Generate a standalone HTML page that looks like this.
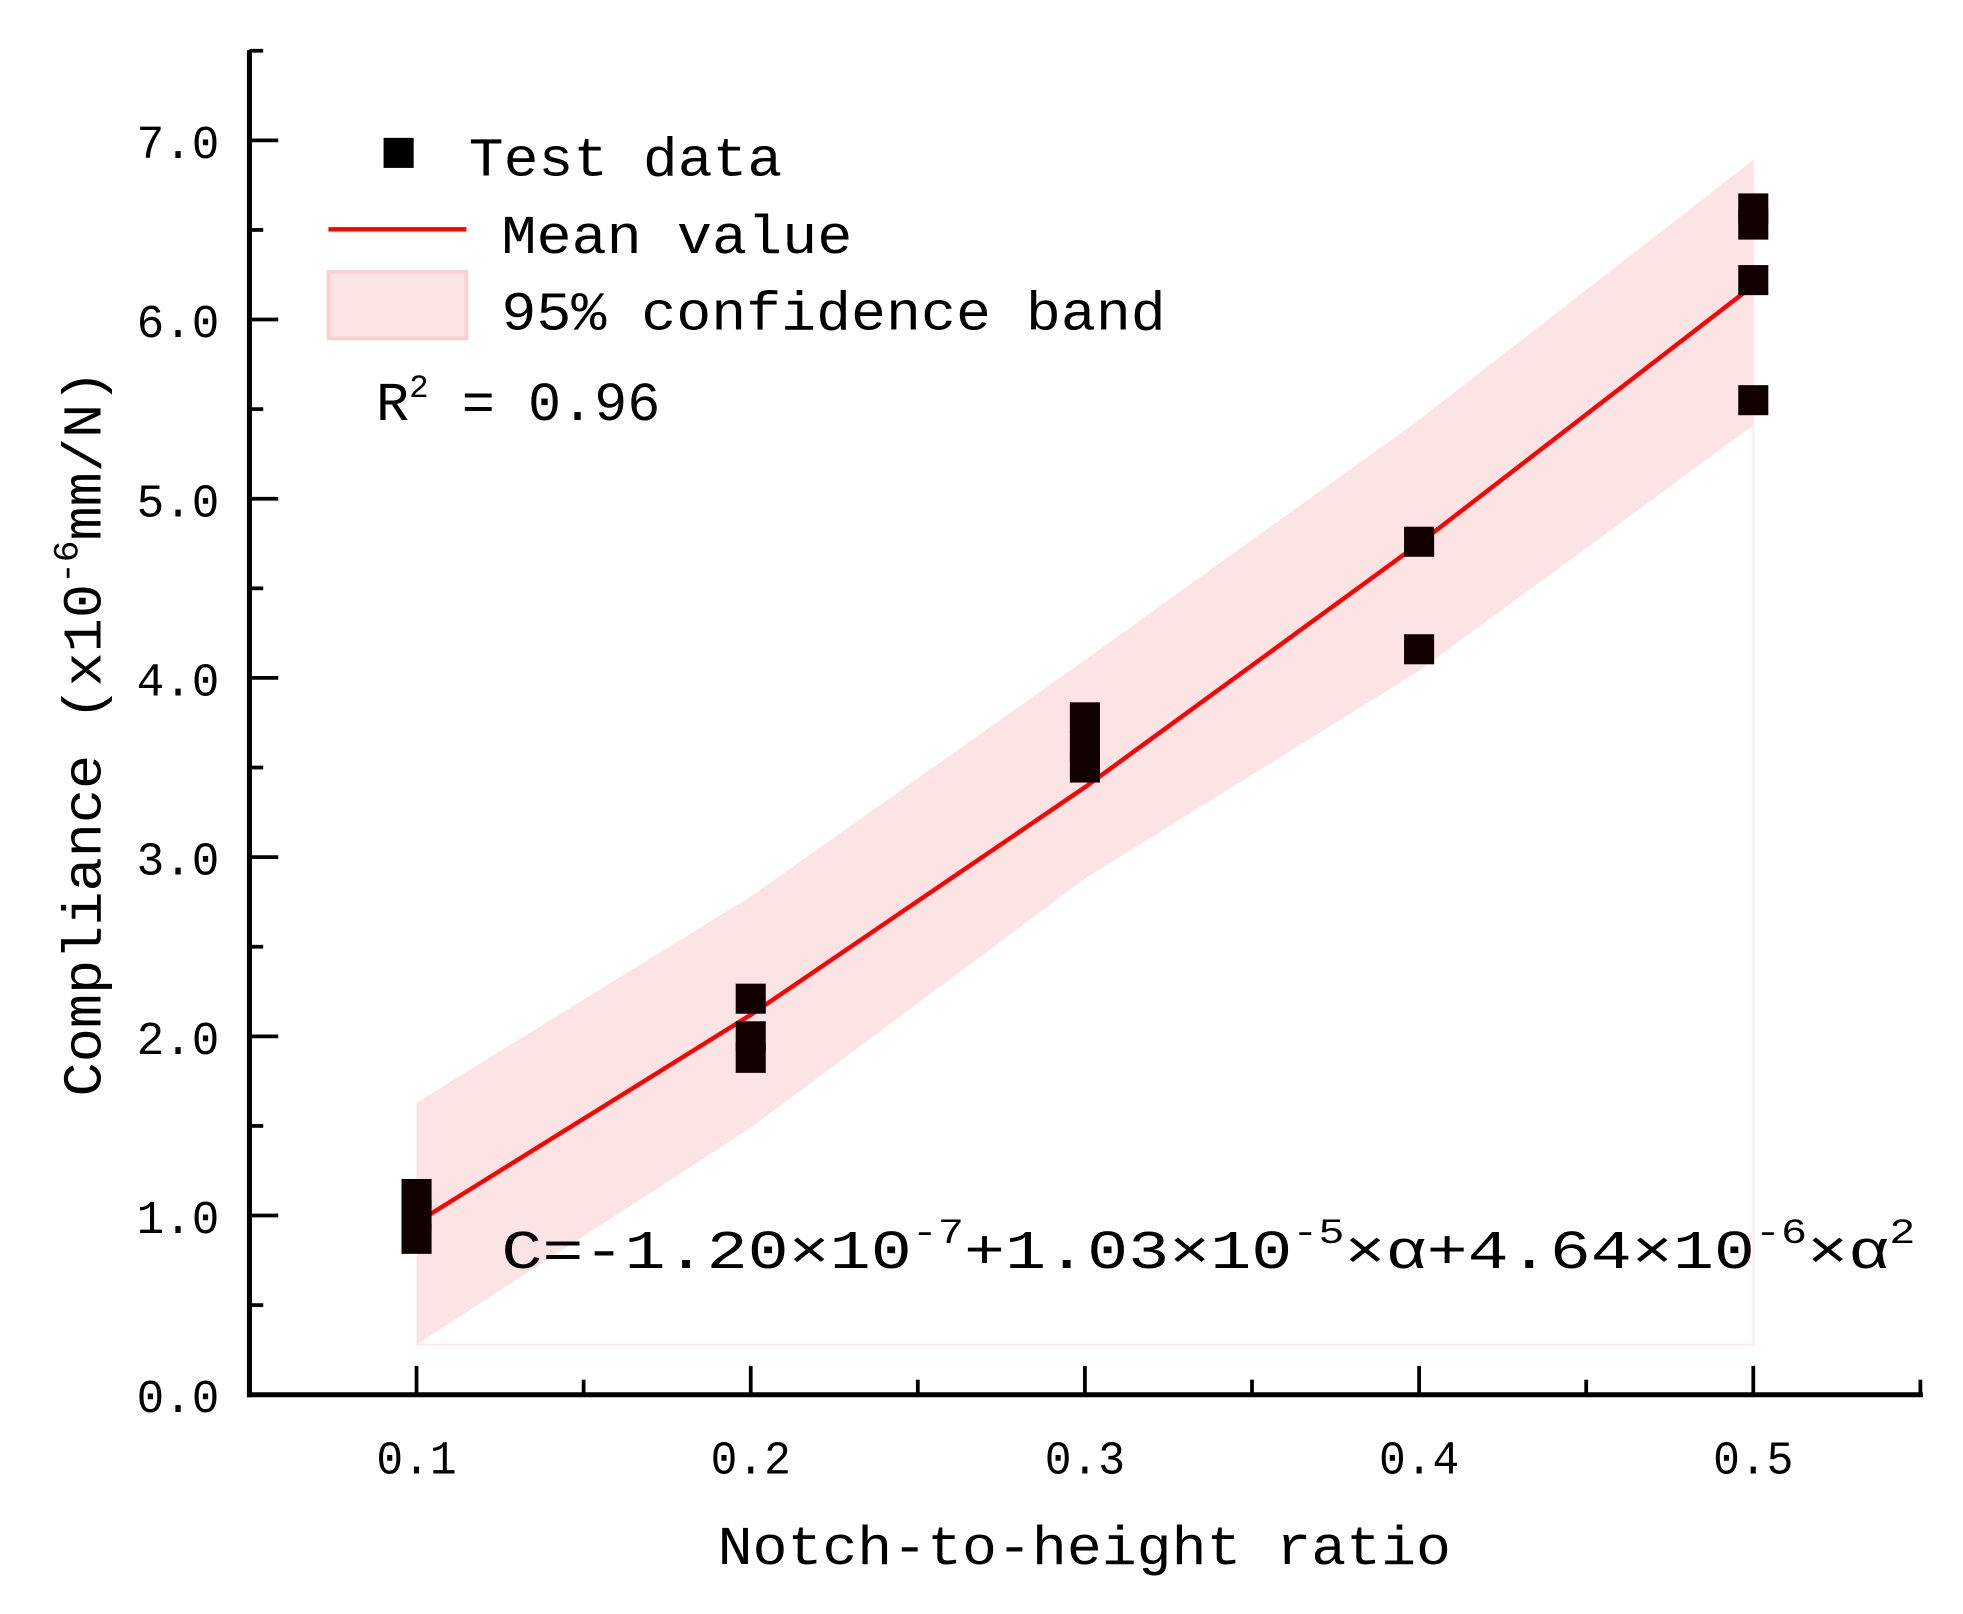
<!DOCTYPE html>
<html><head><meta charset="utf-8"><style>
html,body{margin:0;padding:0;background:#fff;}
svg{display:block;}
text{font-family:"Liberation Mono","Noto Serif CJK SC",monospace;fill:#000;}
</style></head><body>
<svg id="chart" width="1963" height="1614" viewBox="0 0 1566 1288" preserveAspectRatio="none" xmlns="http://www.w3.org/2000/svg">
<g id="band"></g>
<g id="fit"></g>
<g id="pts"></g>
<g id="axes"></g>
<g>
  <rect x="306" y="110" width="24" height="24" fill="#000"/>
  <text x="374" y="140" font-size="44" textLength="250" lengthAdjust="spacingAndGlyphs">Test data</text>
  <line x1="262" y1="183" x2="372" y2="183" stroke="#f00" stroke-width="3.5"/>
  <text x="400" y="202" font-size="44" textLength="280" lengthAdjust="spacingAndGlyphs">Mean value</text>
  <rect x="262" y="217" width="110" height="53" fill="#fde4e4" stroke="#fbd0d0" stroke-width="3"/>
  <text x="400" y="263" font-size="44" textLength="530" lengthAdjust="spacingAndGlyphs">95% confidence band</text>
  <text x="300" y="335" font-size="44"><tspan>R</tspan><tspan font-size="26" dy="-18">2</tspan><tspan dy="18"> = 0.96</tspan></text>
</g>
<text x="400" y="1012" font-size="44" textLength="1128" lengthAdjust="spacingAndGlyphs">C=-1.20×10<tspan font-size="28" dy="-20">-7</tspan><tspan dy="20">+1.03×10</tspan><tspan font-size="28" dy="-20">-5</tspan><tspan dy="20">×α+4.64×10</tspan><tspan font-size="28" dy="-20">-6</tspan><tspan dy="20">×α</tspan><tspan font-size="28" dy="-20">2</tspan></text>
<text x="865" y="1248" font-size="44" text-anchor="middle" textLength="585" lengthAdjust="spacingAndGlyphs">Notch-to-height ratio</text>
<text transform="translate(80,585) rotate(-90)" font-size="44" text-anchor="middle" textLength="580" lengthAdjust="spacingAndGlyphs">Compliance (x10<tspan font-size="28" dy="-18">-6</tspan><tspan dy="18">mm/N)</tspan></text>
</svg>
<script>
const xTicks=[0.1,0.2,0.3,0.4,0.5];
const xMinor=[0.15,0.25,0.35,0.45,0.55];
const yTicks=[0,1,2,3,4,5,6,7];
const yMinor=[0.5,1.5,2.5,3.5,4.5,5.5,6.5,7.5];
const ptX=[0.1,0.1,0.1,0.2,0.2,0.2,0.3,0.3,0.3,0.4,0.4,0.5,0.5,0.5,0.5];
const ptY=[1.12,1.0,0.87,2.21,2.0,1.88,3.78,3.62,3.5,4.76,4.16,6.62,6.53,6.22,5.55];
const fitX=[0.1,0.2,0.3,0.4,0.5];
const fitY=[0.96,2.12,3.39,4.75,6.19];
const bandX=[0.1,0.2,0.3,0.4,0.5];
const bandUpper=[1.63,2.78,4.1,5.44,6.89];
const bandLower=[0.28,1.49,2.88,4.04,5.41];
const NS='http://www.w3.org/2000/svg';
const X=v=>199+(v-0.05)/0.5*1333;
const Y=v=>1113-v*143;
function mk(t,a,p){const e=document.createElementNS(NS,t);for(const k in a)e.setAttribute(k,a[k]);p.appendChild(e);return e;}
const band=document.getElementById('band');
let d='M'+bandX.map((x,i)=>X(x)+','+Y(bandUpper[i])).join('L')+'L'+bandX.slice().reverse().map((x,i)=>X(x)+','+Y(bandLower[bandX.length-1-i])).join('L')+'Z';
const bp=mk('path',{d:d,fill:'#fde4e4'},band);


const bo=mk('path',{d:'M'+X(bandX[0])+','+Y(bandLower[0])+'L'+X(bandX[4])+','+Y(bandLower[0])+'L'+X(bandX[4])+','+Y(bandUpper[4]),fill:'none',stroke:'#fdeaea','stroke-width':1.5},band);


const fit=document.getElementById('fit');
const fl=mk('polyline',{points:fitX.map((x,i)=>X(x)+','+Y(fitY[i])).join(' '),fill:'none',stroke:'#f00','stroke-width':3.5},fit);


const pts=document.getElementById('pts');
ptX.forEach((x,i)=>{const r=mk('rect',{x:X(x)-12,y:Y(ptY[i])-12,width:24,height:24,fill:'#120000'},pts);

});
const ax=document.getElementById('axes');
const ya=mk('line',{x1:199,y1:40,x2:199,y2:1115,stroke:'#000','stroke-width':4},ax);


const xa=mk('line',{x1:197,y1:1113,x2:1534,y2:1113,stroke:'#000','stroke-width':4},ax);


xTicks.forEach(v=>{const t=mk('line',{x1:X(v),y1:1113,x2:X(v),y2:1090,stroke:'#000','stroke-width':3},ax);


const l=mk('text',{x:X(v),y:1176,'font-size':38,'text-anchor':'middle',textLength:64,lengthAdjust:'spacingAndGlyphs'},ax);l.textContent=v.toFixed(1);

});
xMinor.forEach(v=>{const t=mk('line',{x1:X(v),y1:1113,x2:X(v),y2:1101,stroke:'#000','stroke-width':3},ax);

});
yTicks.forEach(v=>{const t=mk('line',{x1:199,y1:Y(v),x2:222,y2:Y(v),stroke:'#000','stroke-width':3},ax);


const l=mk('text',{x:175,y:Y(v)+14,'font-size':38,'text-anchor':'end',textLength:66,lengthAdjust:'spacingAndGlyphs'},ax);l.textContent=v.toFixed(1);

});
yMinor.forEach(v=>{const t=mk('line',{x1:199,y1:Y(v),x2:210,y2:Y(v),stroke:'#000','stroke-width':3},ax);

});
</script>
</body></html>
